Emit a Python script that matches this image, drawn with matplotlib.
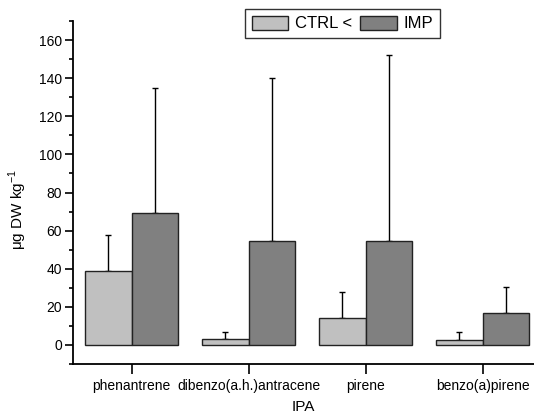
import matplotlib
matplotlib.use("Agg")
import matplotlib.pyplot as plt
import numpy as np
from matplotlib.ticker import MultipleLocator

plt.rcParams['font.family'] = ['Liberation Sans', 'DejaVu Sans']

categories = ["phenantrene", "dibenzo(a.h.)antracene", "pirene", "benzo(a)pirene"]
ctrl = [38.6, 3.0, 14.0, 2.5]
ctrl_err = [19.1, 3.6, 13.9, 4.1]
imp = [69.4, 54.3, 54.6, 16.6]
imp_err = [65.2, 85.7, 97.3, 13.6]
labels = ["CTRL <", "IMP"]

W, H = 534, 412
fig = plt.figure(figsize=(W/100, H/100), dpi=100)
L, R, T, B = 73, 534, 21, 364
ax = fig.add_axes([L/W, 1-B/H, (R-L)/W, (B-T)/H])

x = np.arange(len(categories))
w = 0.4
ekw = dict(ecolor="black", elinewidth=1.0, capsize=2.5, capthick=1.0, zorder=1)
ax.bar(x - w/2, ctrl, w, color="#c0c0c0", edgecolor="#222222", linewidth=1.0,
       yerr=[np.zeros(len(ctrl)), ctrl_err], error_kw=ekw, label=labels[0], zorder=2)
ax.bar(x + w/2, imp, w, color="#808080", edgecolor="#222222", linewidth=1.0,
       yerr=[np.zeros(len(imp)), imp_err], error_kw=ekw, label=labels[1], zorder=2)

ax.set_xlim(-0.5, 3.44)
ax.set_ylim(-10, 170)
ax.set_xticks(x)
ax.set_xticklabels(categories, fontsize=10)
ax.yaxis.set_major_locator(MultipleLocator(20))
ax.yaxis.set_minor_locator(MultipleLocator(10))
ax.tick_params(axis='y', which='major', length=6, width=1.2, labelsize=10, pad=2)
ax.tick_params(axis='y', which='minor', length=3, width=1.2)
ax.tick_params(axis='x', which='major', length=7, width=1.2, labelsize=10, pad=3.5)
for s in ['top', 'right']:
    ax.spines[s].set_visible(False)
for s in ['left', 'bottom']:
    ax.spines[s].set_linewidth(1.3)

ax.set_ylabel("μg DW kg$^{\\mathregular{-1}}$", fontsize=11)
ax.yaxis.set_label_coords((29-L)/(R-L), (B-209)/(B-T))
ax.set_xlabel("IPA", fontsize=11, labelpad=5)

leg = ax.legend(loc='upper left', bbox_to_anchor=(245/W, 1-9/H), bbox_transform=fig.transFigure,
                ncol=2, fontsize=12, frameon=True, fancybox=False, edgecolor='black',
                handlelength=2.2, handleheight=0.9, columnspacing=0.5, handletextpad=0.4,
                borderpad=0.4, borderaxespad=0)
leg.get_frame().set_linewidth(1.0)

fig.savefig("out.png", dpi=100)
